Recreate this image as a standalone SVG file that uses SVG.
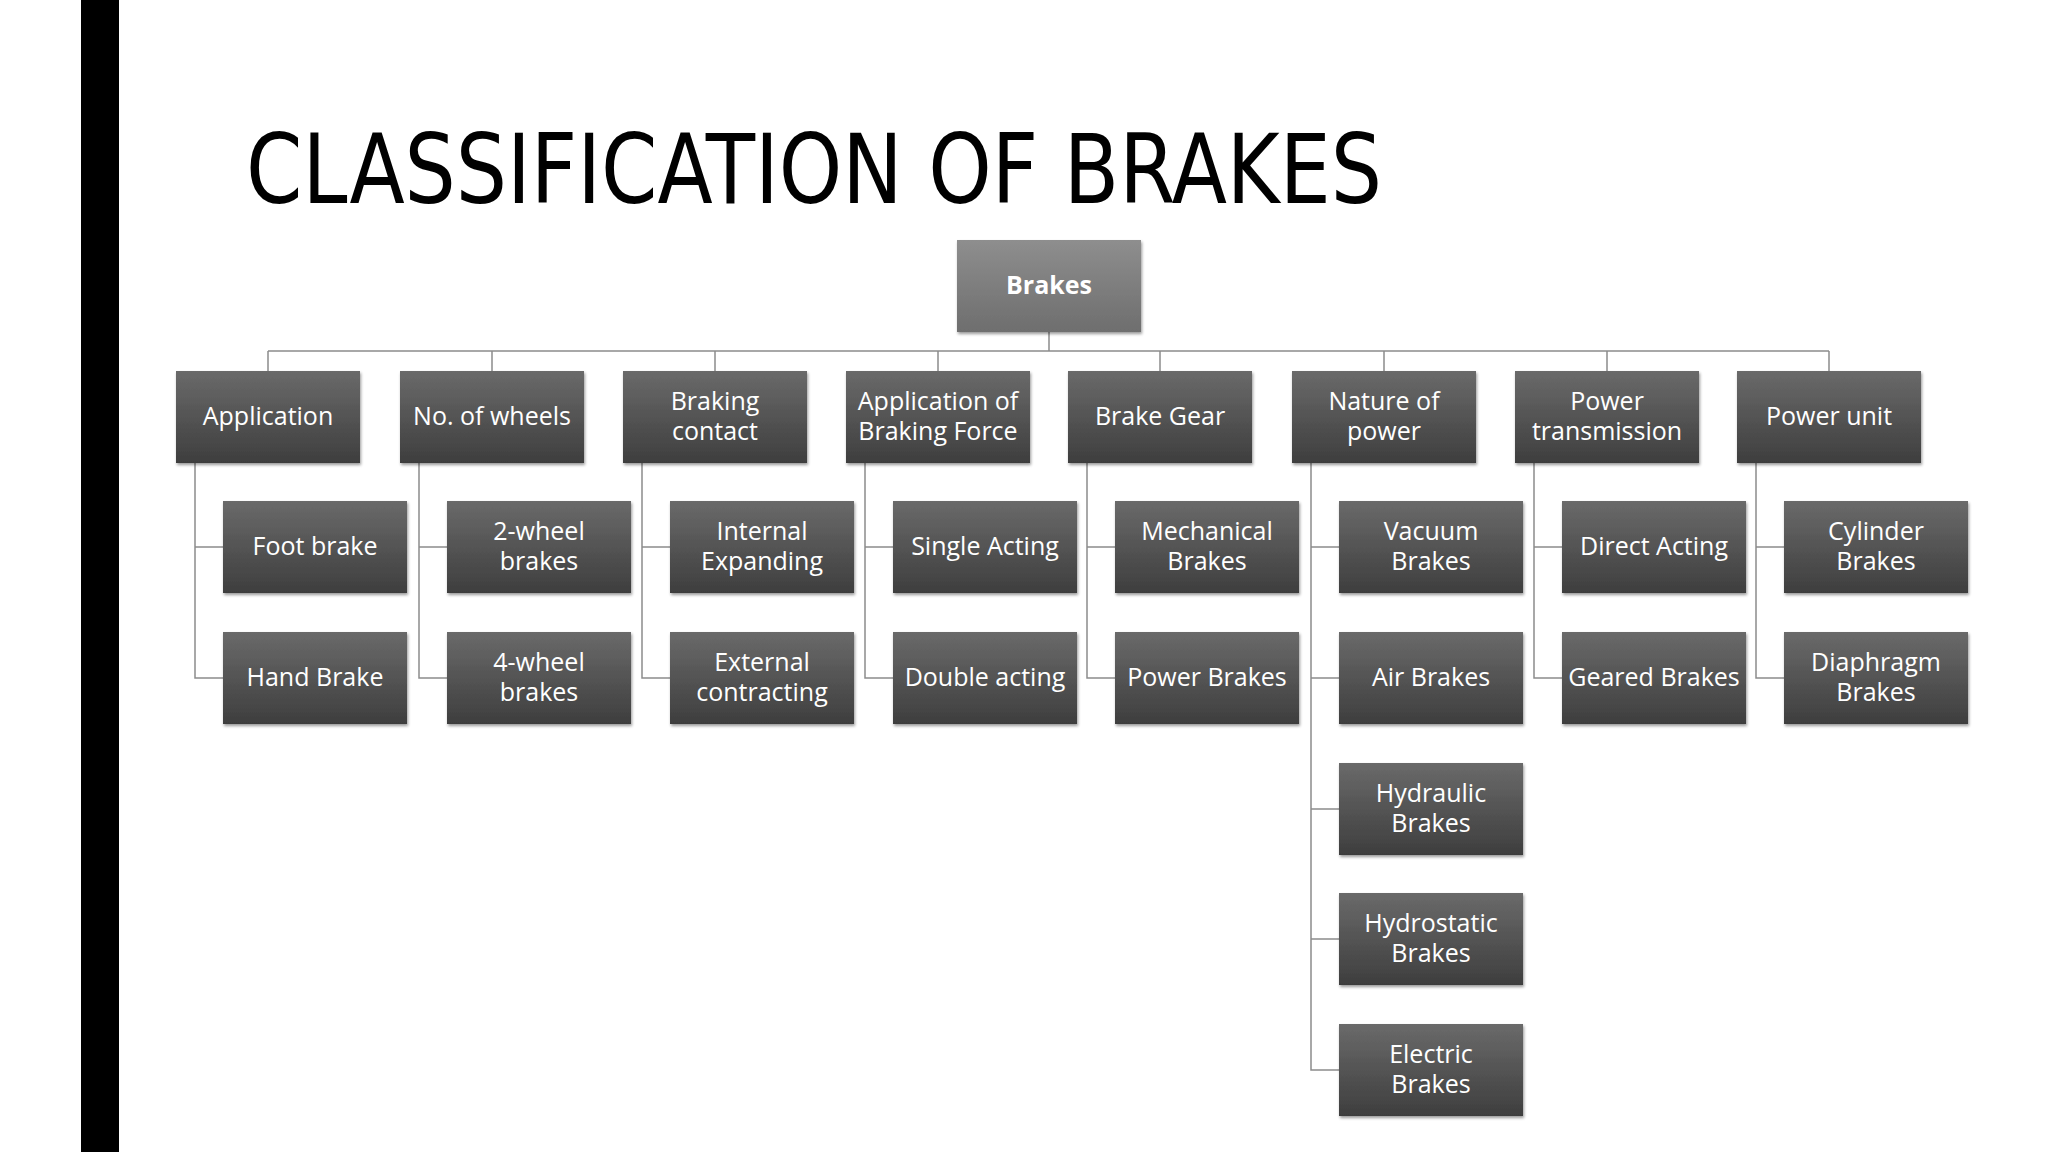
<svg xmlns="http://www.w3.org/2000/svg" width="2048" height="1152" viewBox="0 0 2048 1152">
<defs>
<linearGradient id="g" x1="0" y1="0" x2="0" y2="1"><stop offset="0" stop-color="#6a6a6a"/><stop offset="1" stop-color="#3e3e3e"/></linearGradient>
<linearGradient id="gt" x1="0" y1="0" x2="0" y2="1"><stop offset="0" stop-color="#8e8e8e"/><stop offset="1" stop-color="#6e6e6e"/></linearGradient>
<filter id="sh" x="-10%" y="-10%" width="130%" height="130%"><feDropShadow dx="1" dy="2" stdDeviation="1.5" flood-opacity="0.4"/></filter>
</defs>
<style>
.b{fill:url(#g);filter:url(#sh)}
.t{fill:#fff;font-family:"Open Sans","DejaVu Sans",sans-serif;font-size:25px;text-anchor:middle}
.c{fill:none;stroke:#8c8c8c;stroke-width:1.5}
</style>
<rect width="2048" height="1152" fill="#fff"/>
<rect x="81" y="0" width="38" height="1152" fill="#000"/>
<text x="246" y="203" font-family="'DejaVu Sans Condensed','DejaVu Sans',sans-serif" font-size="96" textLength="1136" lengthAdjust="spacingAndGlyphs" fill="#000">CLASSIFICATION OF BRAKES</text>
<g id="connectors" class="c">
<path d="M1049 332V351M268 351H1829M268 351V371M492 351V371M715 351V371M938 351V371M1160 351V371M1384 351V371M1607 351V371M1829 351V371"/>
<path d="M195 462V678H223M195 547H223"/>
<path d="M419 462V678H447M419 547H447"/>
<path d="M642 462V678H670M642 547H670"/>
<path d="M865 462V678H893M865 547H893"/>
<path d="M1087 462V678H1115M1087 547H1115"/>
<path d="M1311 462V1070H1339M1311 547H1339M1311 678H1339M1311 809H1339M1311 939H1339"/>
<path d="M1534 462V678H1562M1534 547H1562"/>
<path d="M1756 462V678H1784M1756 547H1784"/>
</g>
<g id="brakes"><rect x="957" y="240" width="184" height="92" fill="url(#gt)" filter="url(#sh)"/><text class="t" x="1049" y="294" font-weight="bold">Brakes</text></g>
<g id="n1"><rect class="b" x="176" y="371" width="184" height="92"/><text class="t" x="268" y="425">Application</text></g>
<g id="n2"><rect class="b" x="400" y="371" width="184" height="92"/><text class="t" x="492" y="425">No. of wheels</text></g>
<g id="n3"><rect class="b" x="623" y="371" width="184" height="92"/><text class="t" x="715" y="410">Braking</text><text class="t" x="715" y="440">contact</text></g>
<g id="n4"><rect class="b" x="846" y="371" width="184" height="92"/><text class="t" x="938" y="410">Application of</text><text class="t" x="938" y="440">Braking Force</text></g>
<g id="n5"><rect class="b" x="1068" y="371" width="184" height="92"/><text class="t" x="1160" y="425">Brake Gear</text></g>
<g id="n6"><rect class="b" x="1292" y="371" width="184" height="92"/><text class="t" x="1384" y="410">Nature of</text><text class="t" x="1384" y="440">power</text></g>
<g id="n7"><rect class="b" x="1515" y="371" width="184" height="92"/><text class="t" x="1607" y="410">Power</text><text class="t" x="1607" y="440">transmission</text></g>
<g id="n8"><rect class="b" x="1737" y="371" width="184" height="92"/><text class="t" x="1829" y="425">Power unit</text></g>
<g id="c1a"><rect class="b" x="223" y="501" width="184" height="92"/><text class="t" x="315" y="555">Foot brake</text></g>
<g id="c1b"><rect class="b" x="223" y="632" width="184" height="92"/><text class="t" x="315" y="686">Hand Brake</text></g>
<g id="c2a"><rect class="b" x="447" y="501" width="184" height="92"/><text class="t" x="539" y="540">2-wheel</text><text class="t" x="539" y="570">brakes</text></g>
<g id="c2b"><rect class="b" x="447" y="632" width="184" height="92"/><text class="t" x="539" y="671">4-wheel</text><text class="t" x="539" y="701">brakes</text></g>
<g id="c3a"><rect class="b" x="670" y="501" width="184" height="92"/><text class="t" x="762" y="540">Internal</text><text class="t" x="762" y="570">Expanding</text></g>
<g id="c3b"><rect class="b" x="670" y="632" width="184" height="92"/><text class="t" x="762" y="671">External</text><text class="t" x="762" y="701">contracting</text></g>
<g id="c4a"><rect class="b" x="893" y="501" width="184" height="92"/><text class="t" x="985" y="555">Single Acting</text></g>
<g id="c4b"><rect class="b" x="893" y="632" width="184" height="92"/><text class="t" x="985" y="686">Double acting</text></g>
<g id="c5a"><rect class="b" x="1115" y="501" width="184" height="92"/><text class="t" x="1207" y="540">Mechanical</text><text class="t" x="1207" y="570">Brakes</text></g>
<g id="c5b"><rect class="b" x="1115" y="632" width="184" height="92"/><text class="t" x="1207" y="686">Power Brakes</text></g>
<g id="c6a"><rect class="b" x="1339" y="501" width="184" height="92"/><text class="t" x="1431" y="540">Vacuum</text><text class="t" x="1431" y="570">Brakes</text></g>
<g id="c6b"><rect class="b" x="1339" y="632" width="184" height="92"/><text class="t" x="1431" y="686">Air Brakes</text></g>
<g id="c6c"><rect class="b" x="1339" y="763" width="184" height="92"/><text class="t" x="1431" y="802">Hydraulic</text><text class="t" x="1431" y="832">Brakes</text></g>
<g id="c6d"><rect class="b" x="1339" y="893" width="184" height="92"/><text class="t" x="1431" y="932">Hydrostatic</text><text class="t" x="1431" y="962">Brakes</text></g>
<g id="c6e"><rect class="b" x="1339" y="1024" width="184" height="92"/><text class="t" x="1431" y="1063">Electric</text><text class="t" x="1431" y="1093">Brakes</text></g>
<g id="c7a"><rect class="b" x="1562" y="501" width="184" height="92"/><text class="t" x="1654" y="555">Direct Acting</text></g>
<g id="c7b"><rect class="b" x="1562" y="632" width="184" height="92"/><text class="t" x="1654" y="686">Geared Brakes</text></g>
<g id="c8a"><rect class="b" x="1784" y="501" width="184" height="92"/><text class="t" x="1876" y="540">Cylinder</text><text class="t" x="1876" y="570">Brakes</text></g>
<g id="c8b"><rect class="b" x="1784" y="632" width="184" height="92"/><text class="t" x="1876" y="671">Diaphragm</text><text class="t" x="1876" y="701">Brakes</text></g>
</svg>
